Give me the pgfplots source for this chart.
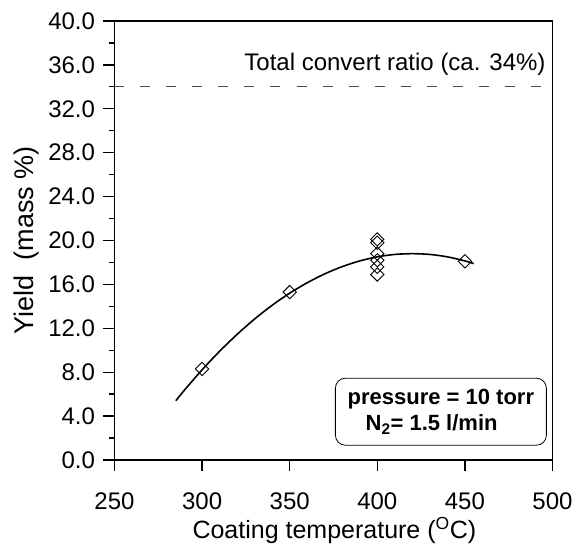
\documentclass[border=0pt]{standalone}
\usepackage{fontspec}
\setmainfont{Liberation Sans}
\usepackage{pgfplots}
\pgfplotsset{compat=1.18}
\begin{document}
\begin{tikzpicture}
\begin{axis}[
  scale only axis, width=438pt, height=439pt,
  xmin=250, xmax=500, ymin=0, ymax=40,
  xtick={250,300,...,500}, ytick={0,4,...,40},
  minor y tick num=1,
  tick align=outside, tick pos=left,
  major tick length=11pt, minor tick length=5.5pt,
  every tick/.style={line width=1.3pt, black},
  axis line style={line width=1.3pt},
  /pgf/number format/assume math mode=true,
  y tick label style={/pgf/number format/fixed, /pgf/number format/fixed zerofill, /pgf/number format/precision=1, xshift=-5pt},
  x tick label style={/pgf/number format/1000 sep={}, yshift=-18pt},
  tick label style={font=\fontsize{24}{28}\selectfont},
  label style={font=\fontsize{25}{30}\selectfont},
  xlabel={Coating temperature (\textsuperscript{O}C)},
  ylabel={Yield\ \ (mass \%)},
  xlabel style={anchor=base, at={(axis description cs:0.502,-0.178)}},
  ylabel style={anchor=center, font=\fontsize{27}{30}\selectfont, at={(axis description cs:-0.201,0.501)}},
]
\addplot[black, line width=1.6pt, smooth] coordinates {
 (285,5.40) (290,6.38) (300,8.22) (310,9.91) (320,11.45) (330,12.85) (340,14.10)
 (350,15.20) (360,16.15) (370,16.96) (380,17.62) (390,18.14) (400,18.51)
 (410,18.73) (420,18.80) (430,18.73) (440,18.51) (450,18.14) (455,17.90)
};
\addplot[only marks, mark=square, mark size=4.7pt, black, line width=0.9pt,
  every mark/.append style={rotate=45}] coordinates {
 (300,8.3) (350,15.3) (400,20.1) (400,19.8) (400,18.8) (400,18.2) (400,17.6) (400,16.9) (450,18.1)
};
\addplot[gray!60!black, line width=1pt, dash pattern=on 10pt off 16pt] coordinates {(250,34) (497,34)};
\node[anchor=east, font=\fontsize{24}{28}\selectfont] at (axis cs:498,36.1) {Total convert ratio (ca. 34\%)};
\node[draw, rounded corners=10pt, line width=0.8pt, minimum width=211pt, minimum height=67pt,
  align=left, font=\bfseries\fontsize{22}{26}\selectfont] at (axis cs:436.3,4.4)
  {pressure = 10 torr\\\hspace*{18pt}N\textsubscript{2}= 1.5 l/min};
\end{axis}
\pgfresetboundingbox
\path ([xshift=-114.5pt,yshift=-88pt]current axis.south west) rectangle ([xshift=23.5pt,yshift=21pt]current axis.north east);
\end{tikzpicture}
\end{document}
